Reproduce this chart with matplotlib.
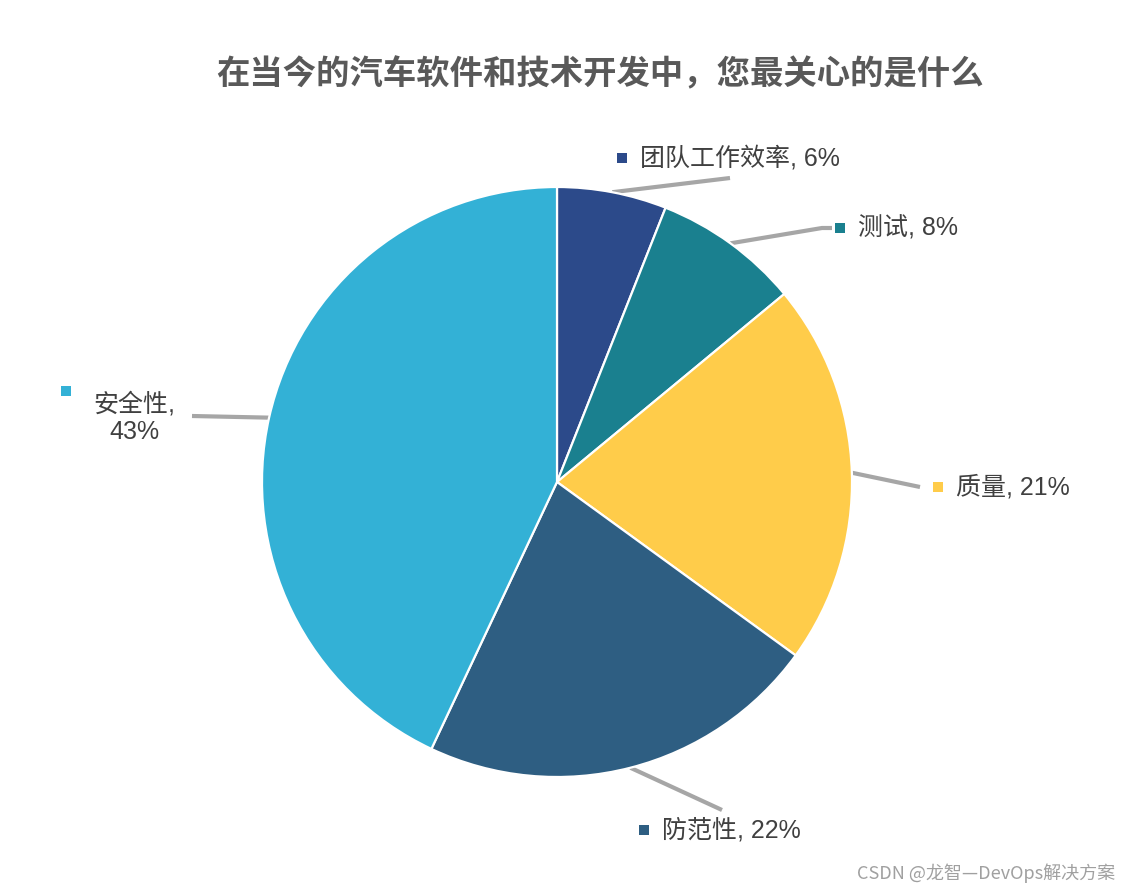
import matplotlib
matplotlib.use("Agg")
import matplotlib.pyplot as plt
import numpy as np

plt.rcParams['font.family'] = ['Liberation Sans', 'Noto Sans CJK SC', 'DejaVu Sans']

# data
names = ['团队工作效率', '测试', '质量', '防范性', '安全性']
shares = [6, 8, 21, 22, 43]
colors = ['#2C4A8A', '#1A808F', '#FFCC4A', '#2E5E82', '#33B1D6']
title = '在当今的汽车软件和技术开发中，您最关心的是什么'

W, H = 1129, 894
cx, cy, R = 557, 482, 295

fig = plt.figure(figsize=(W / 100, H / 100), dpi=100)
ax = fig.add_axes([(cx - R) / W, (H - cy - R) / H, 2 * R / W, 2 * R / H])

wedges, _ = ax.pie(shares, colors=colors, startangle=90, counterclock=False,
                   radius=1, wedgeprops=dict(edgecolor='white', linewidth=1.6))
ax.set_xlim(-1, 1)
ax.set_ylim(-1, 1)
ax.set_aspect('equal')
ax.axis('off')


def px(x, y):
    # pixel position -> data coords of the pie axes
    return (x - cx) / R, (cy - y) / R


# label layout: (line end points in px, marker px, text px, ha)
layout = [
    ([(730, 178)], (622, 158), (640, 158), 'left'),
    ([(822, 228), (832, 228)], (840, 228), (858, 228), 'left'),
    ([(920, 487)], (938, 487), (956, 487), 'left'),
    ([(722, 810)], (644, 830), (662, 830), 'left'),
    ([(192, 416)], (66, 391), (134, 418), 'center'),
]

for w, name, val, col, (pts, mk, tx, ha) in zip(wedges, names, shares, colors, layout):
    mid = np.deg2rad((w.theta1 + w.theta2) / 2)
    xs = [np.cos(mid)] + [px(*p)[0] for p in pts]
    ys = [np.sin(mid)] + [px(*p)[1] for p in pts]
    ax.plot(xs, ys, color='#A6A6A6', lw=3, solid_capstyle='butt', clip_on=False, zorder=0)
    mx, my = px(*mk)
    ax.scatter([mx], [my], marker='s', s=55, color=col, clip_on=False, linewidths=0)
    if ha == 'center':
        label = f'{name},\n{val}%'
    else:
        label = f'{name}, {val}%'
    tx_, ty_ = px(*tx)
    ax.text(tx_, ty_, label, ha=ha, va='center', fontsize=18, color='#404040',
            linespacing=1.15, clip_on=False)

fig.text(600 / W, 1 - 75 / H, title, ha='center', va='center', fontsize=24,
         fontweight='bold', color='#595959')
fig.text(1115 / W, 1 - 873 / H, 'CSDN @龙智—DevOps解决方案', ha='right', va='center',
         fontsize=13, color='#A0A0A0', family=['Noto Sans CJK SC', 'DejaVu Sans'])

fig.savefig('out.png', dpi=100, facecolor='white')
